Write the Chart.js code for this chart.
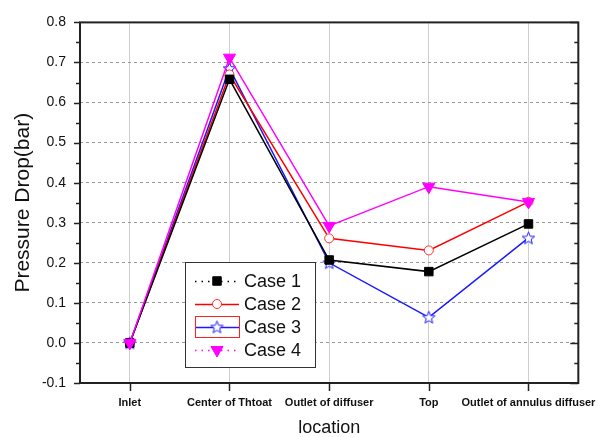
<!DOCTYPE html>
<html>
<head>
<meta charset="utf-8">
<script src="https://cdn.jsdelivr.net/npm/chart.js@4.4.1/dist/chart.umd.min.js"></script>
<style>
  html, body { margin: 0; padding: 0; background: #fff; }
  canvas { display: block; }
</style>
</head>
<body>
<canvas id="pressureChart" width="611" height="437"></canvas>
<script>
// data
const locations = ['Inlet', 'Center of Thtoat', 'Outlet of diffuser', 'Top', 'Outlet of annulus diffuser'];
const case1 = [0, 0.658, 0.207, 0.178, 0.297];
const case2 = [0, 0.67, 0.261, 0.231, 0.352];
const case3 = [0, 0.685, 0.2, 0.064, 0.262];
const case4 = [0, 0.712, 0.292, 0.39, 0.352];
const caseNames = ['Case 1', 'Case 2', 'Case 3', 'Case 4'];
const yMin = -0.1, yMax = 0.8, yStep = 0.1;

const FONT = '"Liberation Sans", Arial, sans-serif';

// open five-point star used as marker for Case 3
function makeStar(color) {
  const c = document.createElement('canvas');
  c.width = 15; c.height = 15;
  const g = c.getContext('2d');
  g.beginPath();
  for (let i = 0; i < 10; i++) {
    const r = i % 2 === 0 ? 6.5 : 2.8;
    const a = -Math.PI / 2 + i * Math.PI / 5;
    const px = 7.5 + r * Math.cos(a), py = 8 + r * Math.sin(a);
    if (i === 0) g.moveTo(px, py); else g.lineTo(px, py);
  }
  g.closePath();
  g.fillStyle = '#fff';
  g.fill();
  g.strokeStyle = color;
  g.lineWidth = 1;
  g.stroke();
  return c;
}
const starImg = makeStar('#1a1aff');

// frame, ticks and legend drawn on top
const framePlugin = {
  id: 'frame',
  afterDraw(chart) {
    const {ctx, chartArea: a, scales} = chart;
    const y = scales.y, x = scales.x;
    ctx.save();
    ctx.strokeStyle = '#222';
    ctx.lineWidth = 2;
    ctx.strokeRect(a.left, a.top, a.right - a.left, a.bottom - a.top);

    ctx.lineWidth = 1.5;
    ctx.beginPath();
    for (let v = yMin; v <= yMax + 1e-9; v += yStep / 2) {
      const py = Math.round(y.getPixelForValue(v)) + 0.5;
      const major = Math.abs(Math.round(v * 10) - v * 10) < 1e-6;
      const len = major ? 6 : 4;
      ctx.moveTo(a.left - len, py); ctx.lineTo(a.left, py);
      ctx.moveTo(a.right, py); ctx.lineTo(a.right - (major ? 8 : 4), py);
    }
    locations.forEach((_, i) => {
      const px = Math.round(x.getPixelForValue(i)) + 0.5;
      ctx.moveTo(px, a.bottom); ctx.lineTo(px, a.bottom + 8);
    });
    ctx.stroke();

    // legend
    const lx = 185, ly = 262, lw = 130, lh = 105;
    ctx.fillStyle = '#fff';
    ctx.fillRect(lx, ly, lw, lh);
    ctx.lineWidth = 1;
    ctx.strokeStyle = '#333';
    ctx.strokeRect(lx + 0.5, ly + 0.5, lw, lh);
    const rowsY = [281, 304, 327, 350];
    chart.data.datasets.forEach((ds, i) => {
      const ry = rowsY[i];
      ctx.save();
      ctx.strokeStyle = ds.borderColor;
      ctx.lineWidth = 1.5;
      if (i === 0 || i === 3) ctx.setLineDash([1.5, 5]);
      ctx.beginPath();
      ctx.moveTo(195, ry + 0.5); ctx.lineTo(239, ry + 0.5);
      ctx.stroke();
      ctx.restore();
      if (i === 2) {
        ctx.strokeStyle = '#ff2020';
        ctx.lineWidth = 1;
        ctx.strokeRect(195.5, ry - 10.5, 44, 21);
      }
      ctx.save();
      ctx.fillStyle = ds.pointBackgroundColor || ds.backgroundColor;
      ctx.strokeStyle = ds.pointBorderColor || ds.borderColor;
      ctx.lineWidth = ds.pointBorderWidth || 1;
      Chart.helpers.drawPoint(ctx, {
        pointStyle: ds.pointStyle,
        radius: ds.pointRadius,
        rotation: ds.pointRotation || 0,
        borderWidth: ds.pointBorderWidth || 1
      }, 217, ry);
      ctx.restore();
      ctx.fillStyle = '#111';
      ctx.font = '18px ' + FONT;
      ctx.textBaseline = 'middle';
      ctx.fillText(caseNames[i], 244, ry + 1);
    });
    ctx.restore();
  }
};

const ctx = document.getElementById('pressureChart').getContext('2d');
const pressureChart = new Chart(ctx, {
  type: 'line',
  data: {
    labels: locations,
    datasets: [
      {
        label: caseNames[0],
        data: case1,
        borderColor: '#000',
        backgroundColor: '#000',
        pointStyle: 'rect',
        pointRadius: 6,
        pointBorderWidth: 1,
        borderWidth: 1.5
      },
      {
        label: caseNames[1],
        data: case2,
        borderColor: '#ff0000',
        backgroundColor: '#fff',
        pointBackgroundColor: '#fff',
        pointBorderColor: '#ff3030',
        pointStyle: 'circle',
        pointRadius: 4.5,
        pointBorderWidth: 1,
        borderWidth: 1.5
      },
      {
        label: caseNames[2],
        data: case3,
        borderColor: '#1a1aff',
        backgroundColor: '#fff',
        pointStyle: starImg,
        pointRadius: 7,
        borderWidth: 1.5
      },
      {
        label: caseNames[3],
        data: case4,
        borderColor: '#ff00ff',
        backgroundColor: '#ff00ff',
        pointStyle: 'triangle',
        pointRotation: 180,
        pointRadius: 7,
        pointBorderWidth: 1,
        borderWidth: 1.5,
        order: -1
      }
    ]
  },
  options: {
    responsive: false,
    animation: false,
    events: [],
    layout: { padding: { top: 13, right: 26, left: 0, bottom: 0 } },
    plugins: {
      legend: { display: false },
      tooltip: { enabled: false }
    },
    scales: {
      x: {
        type: 'category',
        offset: true,
        grid: { offset: false, color: '#cfcfcf', lineWidth: 1, drawTicks: false },
        border: { display: false },
        ticks: {
          color: '#111',
          padding: 13,
          maxRotation: 0,
          autoSkip: false,
          font: { family: FONT, size: 11, weight: 'bold' }
        },
        title: {
          display: true,
          text: 'location',
          color: '#111',
          font: { family: FONT, size: 18, lineHeight: 1 },
          padding: { top: 0, bottom: 0 }
        },
        afterFit(scale) { scale.height = 54; }
      },
      y: {
        min: yMin,
        max: yMax,
        grid: { color: '#999', lineWidth: 1, drawTicks: false },
        border: { display: false, dash: [3, 3] },
        ticks: {
          stepSize: yStep,
          color: '#111',
          padding: 14,
          font: { family: FONT, size: 14 },
          callback: v => Number(v).toFixed(1)
        },
        title: {
          display: true,
          text: 'Pressure Drop(bar)',
          color: '#111',
          font: { family: FONT, size: 21, lineHeight: 1.2 },
          padding: { top: 11, bottom: 0 }
        },
        afterFit(scale) { scale.width = 80; }
      }
    }
  },
  plugins: [framePlugin]
});
</script>
</body>
</html>
